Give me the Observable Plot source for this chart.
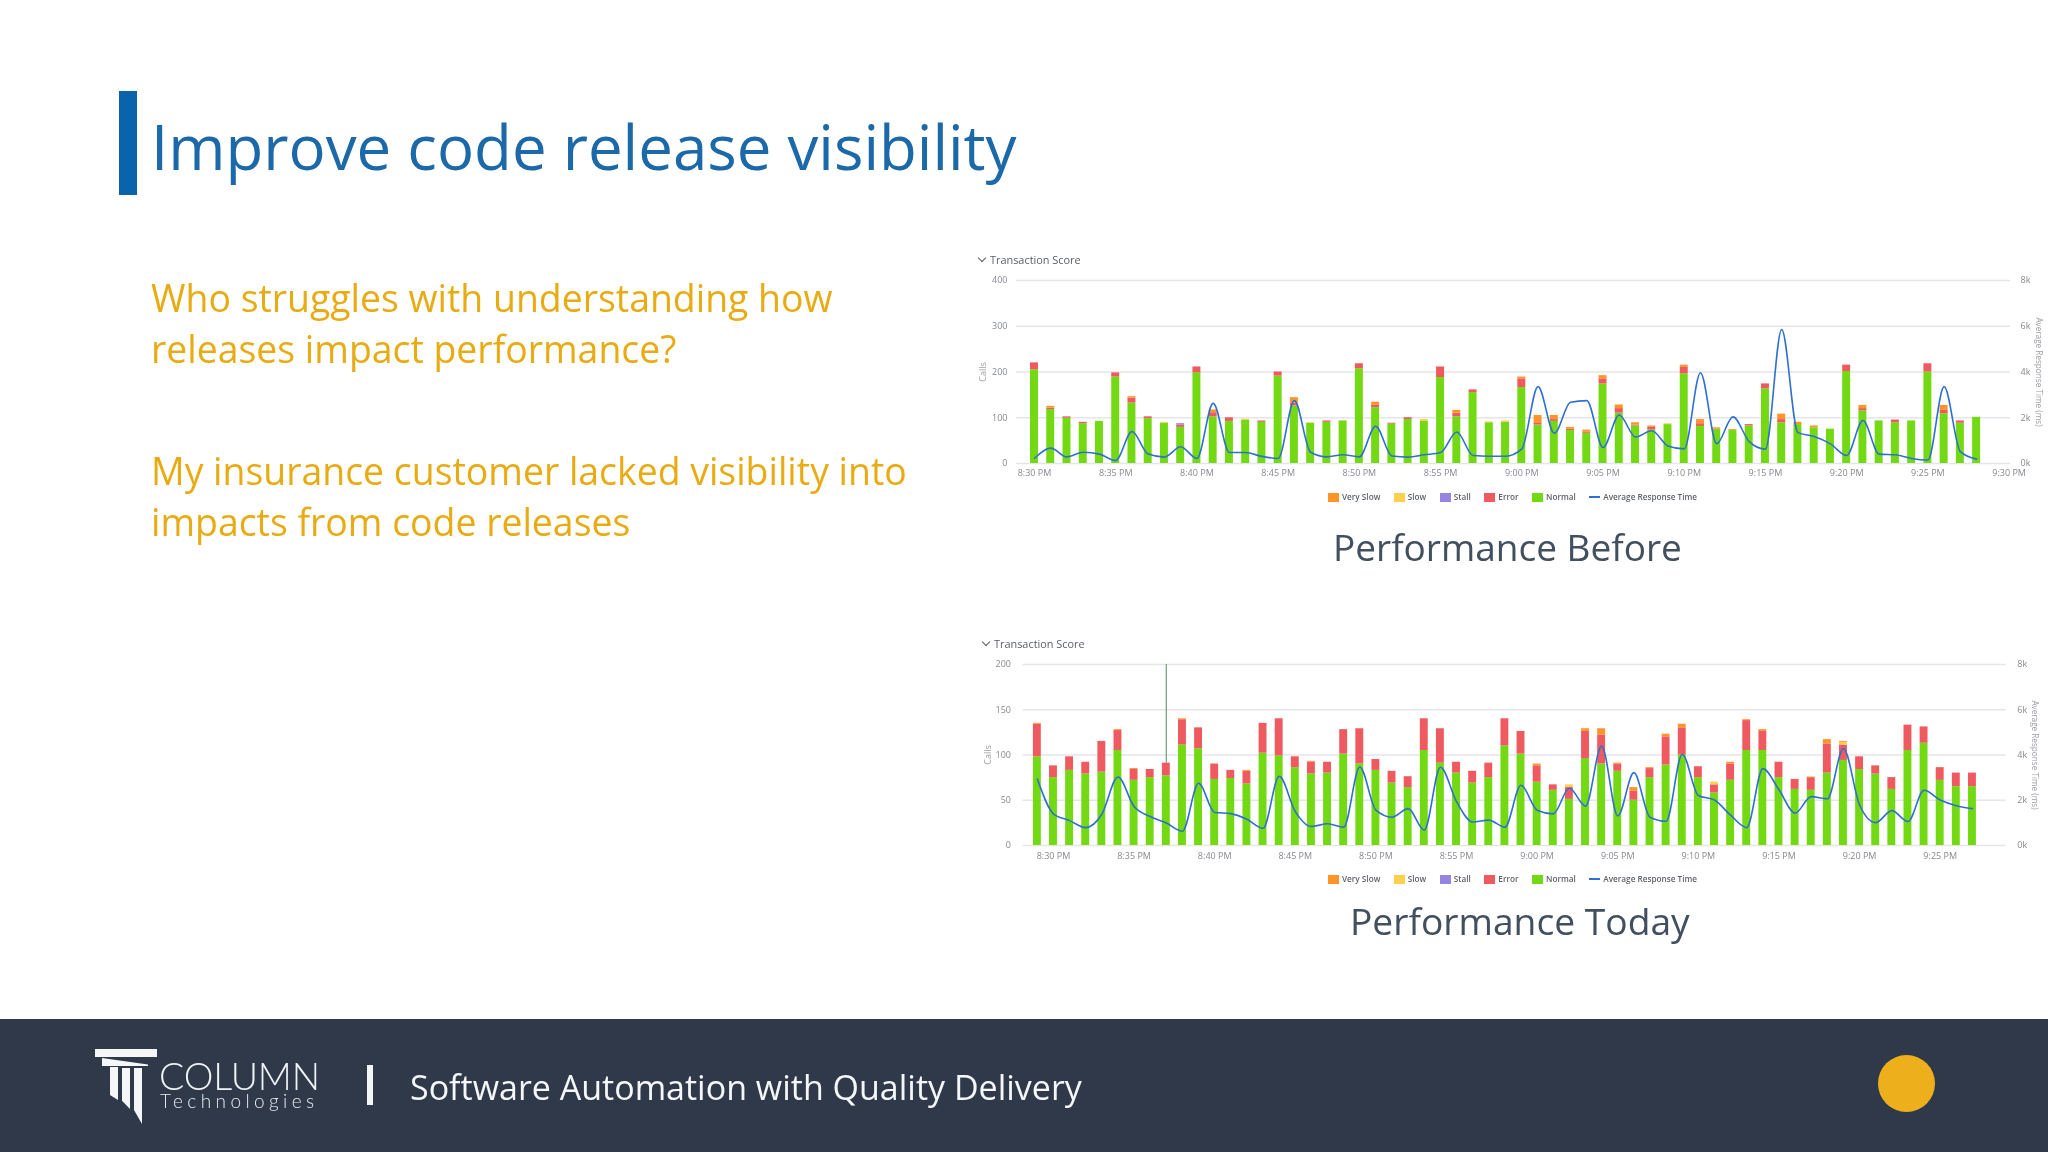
<!DOCTYPE html>
<html><head><meta charset="utf-8">
<script src="https://cdn.jsdelivr.net/npm/d3@7"></script>
<script src="https://cdn.jsdelivr.net/npm/@observablehq/plot@0.6"></script>
<style>
html,body{margin:0;padding:0;background:#fff;width:2048px;height:1152px;overflow:hidden;font-family:"Open Sans",sans-serif}
.abs{position:absolute;white-space:nowrap;filter:blur(.4px)}
.chart{position:absolute;left:960px;width:1088px}
.chart svg{display:block;filter:blur(.45px)}
.ts{color:#5a5e64;font-size:10.9px;line-height:14px}
.chev{position:absolute;width:5px;height:5px;border-right:1.3px solid #5a5e64;border-bottom:1.3px solid #5a5e64;transform:rotate(45deg)}
.legend{position:absolute;display:flex;align-items:center;font-size:8.2px;font-weight:600;color:#5f6368;line-height:12px;filter:blur(.3px)}
.legend span.sw{display:inline-block;width:11px;height:9px;margin-right:3px}
.legend span.ln{display:inline-block;width:11px;height:2px;margin-right:3px;background:#2f6fd0}
.legend div{display:flex;align-items:center;margin-right:13.5px}
.logo div{position:absolute;background:#f4f6f8}
</style></head><body>
<div class="abs" style="left:119px;top:91px;width:18px;height:104px;background:#0a64ad"></div>
<div class="abs" style="left:151px;top:104px;font-size:61.8px;line-height:84px;color:#1b69a8" id="title">Improve code release visibility</div>
<div class="abs" style="left:151px;top:272px;font-size:37.4px;line-height:51px;color:#e9ab12">Who struggles with understanding how<br>releases impact performance?</div>
<div class="abs" style="left:151px;top:445px;font-size:37.4px;line-height:51px;color:#e9ab12">My insurance customer lacked visibility into<br>impacts from code releases</div>

<div class="chev" style="left:979px;top:255px"></div>
<div class="abs ts" style="left:990px;top:253px">Transaction Score</div>
<div id="c1" class="chart" style="top:268px"></div>
<div class="legend" id="l1" style="left:1328px;top:491px"></div>
<div class="abs" style="left:1333px;top:522px;font-size:37px;line-height:50px;color:#414f5e">Performance Before</div>

<div class="chev" style="left:983px;top:639px"></div>
<div class="abs ts" style="left:994px;top:637px">Transaction Score</div>
<div id="c2" class="chart" style="top:652px"></div>
<div class="legend" id="l2" style="left:1328px;top:873px"></div>
<div class="abs" style="left:1350px;top:896px;font-size:37.2px;line-height:50px;color:#414f5e">Performance Today</div>

<div class="abs" style="left:0;top:1019px;width:2048px;height:133px;background:#2f394a;filter:none"></div>
<div class="logo">
<div style="left:95px;top:1049px;width:62px;height:8px"></div>
<div style="left:102px;top:1058px;width:46px;height:8px;clip-path:polygon(0 0,100% 80%,100% 100%,0 100%)"></div>
<div style="left:110px;top:1067px;width:8px;height:33px;clip-path:polygon(0 0,100% 0,100% 100%,0 85%)"></div>
<div style="left:122px;top:1068px;width:8px;height:41px;clip-path:polygon(0 0,100% 0,100% 100%,0 80%)"></div>
<div style="left:134px;top:1068px;width:8px;height:56px;clip-path:polygon(0 0,100% 0,100% 100%,0 75%)"></div>
</div>
<div class="abs" style="left:159px;top:1062px;font-family:Lato;font-weight:300;font-size:37.5px;line-height:27px;letter-spacing:-.2px;color:#f0f3f6">COLUMN</div>
<div class="abs" style="left:160px;top:1092px;font-family:Lato;font-weight:300;font-size:19px;line-height:17px;letter-spacing:4.4px;color:#e6eaee">Technologies</div>
<div class="abs" style="left:367px;top:1065px;width:6px;height:40px;background:#f4f6f8"></div>
<div class="abs" style="left:410px;top:1064px;font-size:34px;line-height:46px;color:#f4f6f8">Software Automation with Quality Delivery</div>
<div class="abs" style="left:1878px;top:1055px;width:57px;height:57px;border-radius:50%;background:#edb01c"></div>

<script>
// ---- Performance Before (first bar 8:30 PM) ----
const normal1 = [205,118,99,87,92,189,132,98,88,79, 198,102,92,95,90,191,126,88,90,93, 207,122,86,96,92,188,102,155,89,90, 166,84,92,72,66,174,110,82,73,85, 196,81,74,72,82,163,89,85,78,75, 201,115,93,89,93,200,109,88,101];
const error1  = [15,3,3,3,0,9,11,4,0,5, 13,9,8,0,3,9,6,0,3,0, 11,6,2,4,0,23,8,6,0,0, 19,5,4,3,3,11,10,2,6,0, 14,6,1,0,3,11,7,0,0,0, 14,5,0,6,0,18,7,5,0];
const stall1  = [0,0,0,0,0,0,0,0,0,3, 0,0,0,0,0,0,0,0,0,0, 0,0,0,0,0,0,0,0,0,0, 0,0,0,0,0,0,0,0,0,0, 0,0,0,0,0,0,0,0,0,0, 0,0,0,0,0,0,0,0,0];
const slow1   = [0,0,0,0,0,0,0,0,2,0, 0,0,0,2,0,0,0,1,0,0, 0,0,0,0,4,0,0,0,2,3, 0,0,0,0,0,0,0,0,0,2, 0,0,0,0,0,0,0,0,0,0, 0,0,0,0,0,0,0,0,0];
const verySlow1 = [0,4,0,0,0,0,3,0,0,0, 0,6,0,0,0,0,12,0,0,0, 0,6,0,0,0,0,6,0,0,0, 4,16,9,4,4,7,8,5,3,0, 5,9,3,2,0,0,12,5,4,0, 0,7,0,0,0,0,11,0,0];
const response1 = [230,670,290,490,410,130,1400,410,280,730, 220,2630,480,480,310,220,2750,490,290,380, 290,1630,330,280,380,480,1380,350,320,320, 640,3360,1320,2680,2750,700,2120,1160,1430,770, 640,3970,870,2040,960,630,5860,1350,1180,860, 350,1880,410,380,220,150,3360,520,190];
const ticks1 = ["8:30 PM","8:35 PM","8:40 PM","8:45 PM","8:50 PM","8:55 PM","9:00 PM","9:05 PM","9:10 PM","9:15 PM","9:20 PM","9:25 PM","9:30 PM"];
const leftTicks1 = [0,100,200,300,400];

// ---- Performance Today (first bar 8:29 PM) ----
const normal2 = [98,75,83,79,81,105,72,75,77,111, 107,73,74,68,102,99,86,79,80,101, 90,83,69,64,105,91,80,69,75,110, 101,70,61,51,96,90,82,50,75,89, 100,75,58,72,105,105,75,62,61,80, 94,84,79,62,105,113,72,65,65];
const error2  = [36,13,15,13,34,22,12,9,14,28, 23,17,9,14,33,41,12,13,12,27, 39,12,13,12,35,38,12,13,16,30, 25,18,6,13,30,32,8,10,10,31, 30,12,9,18,33,21,17,11,14,32, 17,14,9,13,28,18,14,15,15];
const stall2  = new Array(59).fill(0);
const slow2   = [0,0,0,0,0,0,0,0,0,0, 0,0,0,0,0,0,0,0,0,0, 0,0,0,0,0,0,0,0,0,0, 0,0,0,3,0,0,0,0,0,0, 0,0,3,0,0,0,0,0,1,0, 3,0,0,0,0,0,0,0,0];
const verySlow2 = [1,0,0,0,0,1,1,0,0,1, 0,0,0,1,0,0,0,1,0,0, 0,0,0,0,0,0,0,0,0,0, 0,2,0,0,3,7,1,4,1,3, 4,0,0,2,1,2,0,0,0,5, 1,0,0,0,0,0,0,0,0];
const response2 = [2940,1400,1100,790,1380,3030,1720,1280,990,630, 2750,1460,1410,1160,760,3060,1500,840,960,810, 3470,1560,1250,1630,680,3460,1940,1040,1120,810, 2660,1560,1400,2530,1740,4400,1310,3220,1250,1070, 4030,2210,2010,1340,790,3400,2460,1430,2160,2060, 4290,1790,1010,1540,1060,2440,2010,1760,1630];
const ticks2 = ticks1.slice(0,12);
const leftTicks2 = [0,50,100,150,200];
const rightTicks = ["0k","2k","4k","6k","8k"];
const deployMarkerMinute = 7; // 8:37 PM

const seriesNames = ["Normal","Error","Stall","Slow","Very Slow"];
const seriesColors = ["#72d912","#ee5a60","#9584e0","#ffcf4d","#ff9527"];
const legendOrder = ["Very Slow","Slow","Stall","Error","Normal"];

function draw(el, o){
  const rows = [];
  o.series.forEach((vals,s)=>vals.forEach((v,i)=>rows.push({m:o.first+i, series:seriesNames[s], v})));
  const line = o.response.map((r,i)=>({m:o.first+i, y:r/o.msPerCall}));
  const halfBar = .245;
  const marks = [
    Plot.ruleY(o.leftTicks,{stroke:"#e5e6ec",strokeWidth:1.4}),
    Plot.rectY(rows,{x1:d=>d.m-halfBar,x2:d=>d.m+halfBar,y:"v",fill:"series",order:null}),
  ];
  if(o.marker!=null) marks.push(Plot.ruleX([o.marker],{y1:o.markerFrom,y2:o.leftTicks.at(-1),stroke:"#7fa882",strokeWidth:1.4}));
  marks.push(
    Plot.line(line,{x:"m",y:"y",stroke:"#2f6fd0",strokeWidth:1.6,curve:"monotone-x"}),
    Plot.axisX(o.ticks.map((_,i)=>i*5),{anchor:"bottom",tickSize:0,tickPadding:o.xPad,label:null,tickFormat:d=>o.ticks[d/5],fill:"#85898f"}),
    Plot.axisY(o.leftTicks,{anchor:"left",tickSize:0,tickPadding:o.lPad,label:null,fill:"#85898f"}),
    Plot.axisY(o.leftTicks,{anchor:"right",tickSize:0,tickPadding:o.rPad,label:null,tickFormat:(d,i)=>rightTicks[i],fill:"#85898f"}),
    Plot.text(["Calls"],{frameAnchor:"left",textAnchor:"middle",rotate:-90,dx:o.callsDx,fill:"#9a9da2",fontSize:9}),
    Plot.text(["Average Response Time (ms)"],{frameAnchor:"right",textAnchor:"middle",rotate:90,dx:o.rightTitleDx,fill:"#9a9da2",fontSize:8.2})
  );
  const svg = Plot.plot({
    width:1088,height:o.height,marginLeft:o.ml,marginRight:o.mr,marginTop:o.mt,marginBottom:o.mb,
    style:{fontFamily:'"Open Sans",sans-serif',fontSize:"9px",background:"transparent"},
    x:{domain:o.xDomain,axis:null},
    y:{domain:[0,o.leftTicks.at(-1)],axis:null},
    color:{domain:seriesNames,range:seriesColors},
    marks
  });
  el.appendChild(svg);
}

draw(document.getElementById("c1"),{
  first:0,series:[normal1,error1,stall1,slow1,verySlow1],response:response1,ticks:ticks1,leftTicks:leftTicks1,msPerCall:20,
  height:225,mt:12,mb:30,ml:56,mr:38,rightTitleDx:28,callsDx:-33,xPad:6,lPad:9,rPad:10,xDomain:[-1.108,60.086]
});
draw(document.getElementById("c2"),{
  first:-1,series:[normal2,error2,stall2,slow2,verySlow2],response:response2,ticks:ticks2,leftTicks:leftTicks2,msPerCall:40,
  marker:deployMarkerMinute,markerFrom:91,
  height:225,mt:12,mb:32,ml:62.5,mr:42.2,rightTitleDx:28,callsDx:-35,xPad:7,lPad:12,rPad:11,xDomain:[-1.89,59.1]
});

for(const id of ["l1","l2"]){
  const l=document.getElementById(id);
  legendOrder.forEach(n=>{
    const d=document.createElement("div");
    const s=document.createElement("span");s.className="sw";s.style.background=seriesColors[seriesNames.indexOf(n)];
    d.appendChild(s);d.appendChild(document.createTextNode(n));l.appendChild(d);
  });
  const d=document.createElement("div");d.style.marginRight="0";
  const s=document.createElement("span");s.className="ln";
  d.appendChild(s);d.appendChild(document.createTextNode("Average Response Time"));l.appendChild(d);
}
</script>
</body></html>
